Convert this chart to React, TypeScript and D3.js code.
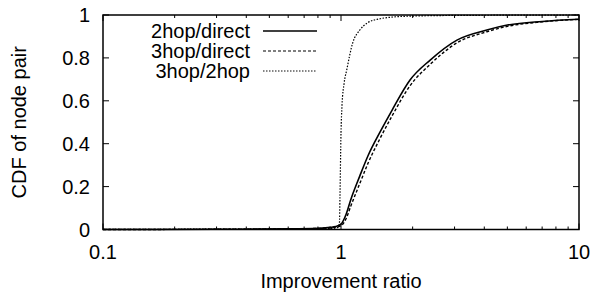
import { useEffect, useRef } from 'react';
import * as d3 from 'd3';

// improvement ratio samples and CDF values
const ratio2hop = [0.1, 0.3, 0.6, 0.8, 0.9, 0.95, 1.0, 1.05, 1.1, 1.2, 1.3, 1.46, 1.64, 1.95, 2.37, 3.07, 4.1, 5.0, 7.0, 10];
const cdf2hop = [0, 0.001, 0.003, 0.006, 0.01, 0.014, 0.025, 0.07, 0.14, 0.25, 0.345, 0.455, 0.557, 0.697, 0.79, 0.883, 0.93, 0.953, 0.97, 0.98];

const ratio3hop = [0.1, 0.3, 0.6, 0.8, 0.9, 0.95, 1.0, 1.05, 1.1, 1.2, 1.3, 1.46, 1.64, 1.95, 2.37, 3.07, 4.1, 5.0, 7.0, 10];
const cdf3hop = [0, 0.001, 0.003, 0.005, 0.008, 0.011, 0.018, 0.05, 0.11, 0.215, 0.31, 0.425, 0.53, 0.67, 0.77, 0.87, 0.922, 0.947, 0.968, 0.98];

const ratio3over2 = [0.1, 0.5, 0.9, 0.97, 0.985, 0.99, 1.0, 1.01, 1.03, 1.057, 1.12, 1.2, 1.29, 1.45, 1.63, 2.0, 3.0, 10];
const cdf3over2 = [0.001, 0.002, 0.004, 0.01, 0.03, 0.15, 0.45, 0.58, 0.68, 0.744, 0.87, 0.93, 0.963, 0.982, 0.99, 0.995, 0.998, 1.0];

const series = [
  { name: '2hop/direct', xs: ratio2hop, ys: cdf2hop, dash: null, width: 1.6 },
  { name: '3hop/direct', xs: ratio3hop, ys: cdf3hop, dash: '3,2', width: 1.4 },
  { name: '3hop/2hop', xs: ratio3over2, ys: cdf3over2, dash: '1.5,1.5', width: 1.2 },
];

const yTicks = [0, 0.2, 0.4, 0.6, 0.8, 1];
const xMajor = [0.1, 1, 10];
const xMinor = [0.2, 0.3, 0.4, 0.5, 0.6, 0.7, 0.8, 0.9, 2, 3, 4, 5, 6, 7, 8, 9];

const font = '"Liberation Sans", Arial, Helvetica, sans-serif';

export default function App() {
  const ref = useRef(null);

  useEffect(() => {
    const width = 592;
    const height = 296;
    const margin = { top: 15, right: 13, bottom: 66.5, left: 103 };
    const innerWidth = width - margin.left - margin.right;
    const innerHeight = height - margin.top - margin.bottom;

    const svg = d3.select(ref.current);
    svg.selectAll('*').remove();
    const root = svg.append('g').attr('transform', `translate(${margin.left},${margin.top})`);

    const x = d3.scaleLog().domain([0.1, 10]).range([0, innerWidth]);
    const y = d3.scaleLinear().domain([0, 1]).range([innerHeight, 0]);

    // ticks, drawn inward on all four sides
    const tickG = root.append('g').attr('stroke', '#000').attr('stroke-width', 1);
    yTicks.forEach((t) => {
      tickG.append('line').attr('x1', 0).attr('x2', 6).attr('y1', y(t)).attr('y2', y(t));
      tickG.append('line').attr('x1', innerWidth).attr('x2', innerWidth - 6).attr('y1', y(t)).attr('y2', y(t));
    });
    xMajor.forEach((t) => {
      tickG.append('line').attr('x1', x(t)).attr('x2', x(t)).attr('y1', innerHeight).attr('y2', innerHeight - 6);
      tickG.append('line').attr('x1', x(t)).attr('x2', x(t)).attr('y1', 0).attr('y2', 6);
    });
    xMinor.forEach((t) => {
      tickG.append('line').attr('x1', x(t)).attr('x2', x(t)).attr('y1', innerHeight).attr('y2', innerHeight - 3);
      tickG.append('line').attr('x1', x(t)).attr('x2', x(t)).attr('y1', 0).attr('y2', 3);
    });

    root
      .selectAll('.ytick')
      .data(yTicks)
      .join('text')
      .attr('class', 'ytick')
      .attr('x', -13)
      .attr('y', (d) => y(d))
      .attr('dy', '0.35em')
      .attr('text-anchor', 'end')
      .attr('font-family', font)
      .attr('font-size', 20)
      .text((d) => d3.format('~g')(d));

    root
      .selectAll('.xtick')
      .data(xMajor)
      .join('text')
      .attr('class', 'xtick')
      .attr('x', (d) => x(d))
      .attr('y', innerHeight + 29)
      .attr('text-anchor', 'middle')
      .attr('font-family', font)
      .attr('font-size', 20)
      .text((d) => String(d));

    root
      .append('text')
      .attr('x', innerWidth / 2)
      .attr('y', innerHeight + 58.5)
      .attr('text-anchor', 'middle')
      .attr('font-family', font)
      .attr('font-size', 20)
      .text('Improvement ratio');

    root
      .append('text')
      .attr('transform', `translate(${26 - margin.left},${innerHeight / 2}) rotate(-90)`)
      .attr('text-anchor', 'middle')
      .attr('font-family', font)
      .attr('font-size', 20)
      .text('CDF of node pair');

    const line = d3
      .line()
      .x((d) => x(d[0]))
      .y((d) => y(d[1]))
      .curve(d3.curveMonotoneX);

    series.forEach((s) => {
      const pts = s.xs.map((v, i) => [v, s.ys[i]]);
      root
        .append('path')
        .attr('d', line(pts))
        .attr('fill', 'none')
        .attr('stroke', '#000')
        .attr('stroke-width', s.width)
        .attr('stroke-dasharray', s.dash);
    });

    // frame
    root
      .append('rect')
      .attr('width', innerWidth)
      .attr('height', innerHeight)
      .attr('fill', 'none')
      .attr('stroke', '#000')
      .attr('stroke-width', 1.5);

    // legend
    const legend = root.append('g');
    series.forEach((s, i) => {
      const ly = 16 + i * 20;
      legend
        .append('text')
        .attr('x', 250 - margin.left)
        .attr('y', ly)
        .attr('dy', '0.35em')
        .attr('text-anchor', 'end')
        .attr('font-family', font)
        .attr('font-size', 20)
        .text(s.name);
      legend
        .append('line')
        .attr('x1', 263 - margin.left)
        .attr('x2', 317 - margin.left)
        .attr('y1', ly)
        .attr('y2', ly)
        .attr('stroke', '#000')
        .attr('stroke-width', s.width * 0.8)
        .attr('stroke-dasharray', s.dash);
    });
  }, []);

  return (
    <svg
      ref={ref}
      width={592}
      height={296}
      style={{ position: 'absolute', left: 0, top: 0, background: '#fff' }}
    />
  );
}
